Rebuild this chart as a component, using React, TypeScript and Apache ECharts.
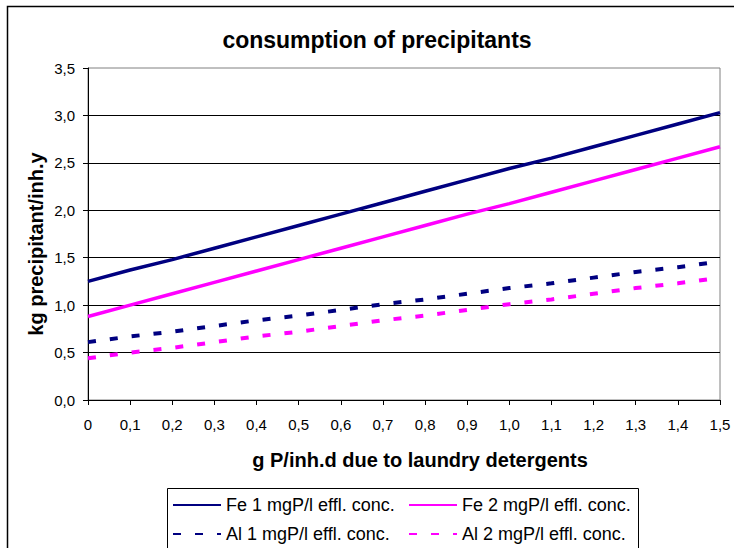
import React, { useEffect, useRef } from "react";
import * as echarts from "echarts";

const categories = ["0", "0,1", "0,2", "0,3", "0,4", "0,5", "0,6", "0,7", "0,8", "0,9", "1,0", "1,1", "1,2", "1,3", "1,4", "1,5"];
const fe1 = [1.25, 1.37, 1.48, 1.6, 1.72, 1.84, 1.96, 2.08, 2.2, 2.32, 2.44, 2.55, 2.67, 2.79, 2.91, 3.03];
const fe2 = [0.88, 1.0, 1.12, 1.24, 1.36, 1.48, 1.6, 1.72, 1.84, 1.96, 2.07, 2.19, 2.31, 2.43, 2.55, 2.67];
const al1 = [0.61, 0.67, 0.72, 0.78, 0.84, 0.89, 0.95, 1.01, 1.06, 1.12, 1.18, 1.23, 1.29, 1.35, 1.4, 1.46];
const al2 = [0.44, 0.5, 0.55, 0.61, 0.67, 0.72, 0.78, 0.84, 0.89, 0.95, 1.01, 1.06, 1.12, 1.18, 1.23, 1.29];
const seriesNames = ["Fe 1 mgP/l effl. conc.", "Fe 2 mgP/l effl. conc.", "Al 1 mgP/l effl. conc.", "Al 2 mgP/l effl. conc."];
const titleText = "consumption of precipitants";
const yName = "kg precipitant/inh.y";
const xName = "g P/inh.d due to laundry detergents";

const FONT = "'Liberation Sans', Arial, sans-serif";
const NAVY = "#000080";
const MAGENTA = "#ff00ff";

export default function App() {
  const ref = useRef<HTMLDivElement>(null);
  useEffect(() => {
    if (!ref.current) return;
    const chart = echarts.init(ref.current, undefined, { renderer: "svg" });
    const legendText = { fontFamily: FONT, fontSize: 18, color: "#000", lineHeight: 20 };
    const legendCommon = {
      orient: "vertical",
      top: 495,
      itemWidth: 48,
      itemHeight: 14,
      itemGap: 9,
      padding: 0,
      textStyle: legendText,
      selectedMode: false,
      itemStyle: { opacity: 0 },
    };
    chart.setOption({
      animation: false,
      backgroundColor: "#fff",
      textStyle: { fontFamily: FONT },
      grid: {
        left: 88,
        right: 14,
        top: 68,
        bottom: 148,
        show: true,
        borderColor: "#808080",
        borderWidth: 1,
        containLabel: false,
      },
      legend: [
        { ...legendCommon, data: [seriesNames[0], seriesNames[2]], left: 172 },
        { ...legendCommon, data: [seriesNames[1], seriesNames[3]], left: 408 },
      ],
      xAxis: {
        type: "category",
        data: categories,
        boundaryGap: false,
        axisLine: { show: true, lineStyle: { color: "#000", width: 1 } },
        axisTick: { show: true, length: 5, interval: 0, lineStyle: { color: "#000" } },
        axisLabel: { interval: 0, color: "#000", fontSize: 15, fontFamily: FONT, margin: 17 },
        splitLine: { show: false },
      },
      yAxis: {
        type: "value",
        min: 0,
        max: 3.5,
        interval: 0.5,
        axisLine: { show: true, lineStyle: { color: "#000", width: 1 } },
        axisTick: { show: true, length: 5, lineStyle: { color: "#000" } },
        axisLabel: {
          color: "#000",
          fontSize: 15,
          fontFamily: FONT,
          margin: 13,
          formatter: (v: number) => v.toFixed(1).replace(".", ","),
        },
        splitLine: { show: true, showMaxLine: false, lineStyle: { color: "#000", width: 1 } },
      },
      series: [
        {
          name: seriesNames[0],
          type: "line",
          data: fe1,
          symbol: "none",
          color: NAVY,
          lineStyle: { color: NAVY, width: 3.5 },
        },
        {
          name: seriesNames[1],
          type: "line",
          data: fe2,
          symbol: "none",
          color: MAGENTA,
          lineStyle: { color: MAGENTA, width: 3.5 },
        },
        {
          name: seriesNames[2],
          type: "line",
          data: al1,
          symbol: "none",
          color: NAVY,
          lineStyle: { color: NAVY, width: 4, type: [8, 14] },
        },
        {
          name: seriesNames[3],
          type: "line",
          data: al2,
          symbol: "none",
          color: MAGENTA,
          lineStyle: { color: MAGENTA, width: 4, type: [8, 14] },
        },
      ],
      graphic: [
        {
          type: "rect",
          shape: { x: 7.5, y: 6.5, width: 740, height: 560 },
          style: { fill: "none", stroke: "#000", lineWidth: 1.5 },
          z: 100,
          silent: true,
        },
        {
          type: "rect",
          shape: { x: 167.5, y: 488.5, width: 471, height: 80 },
          style: { fill: "none", stroke: "#000", lineWidth: 1 },
          z: 100,
          silent: true,
        },
        {
          type: "text",
          x: 377,
          y: 40,
          style: {
            text: titleText,
            fontFamily: FONT,
            fontSize: 23,
            fontWeight: "bold",
            fill: "#000",
            textAlign: "center",
            textVerticalAlign: "middle",
          },
        },
        {
          type: "text",
          x: 420,
          y: 460,
          style: {
            text: xName,
            fontFamily: FONT,
            fontSize: 20,
            fontWeight: "bold",
            fill: "#000",
            textAlign: "center",
            textVerticalAlign: "middle",
          },
        },
        {
          type: "text",
          x: 36,
          y: 244,
          rotation: Math.PI / 2,
          style: {
            text: yName,
            fontFamily: FONT,
            fontSize: 20,
            fontWeight: "bold",
            fill: "#000",
            textAlign: "center",
            textVerticalAlign: "middle",
          },
        },
      ],
    });
    return () => chart.dispose();
  }, []);
  return (
    <div
      ref={ref}
      style={{ position: "fixed", left: 0, top: 0, width: 734, height: 548, background: "#fff" }}
    />
  );
}
